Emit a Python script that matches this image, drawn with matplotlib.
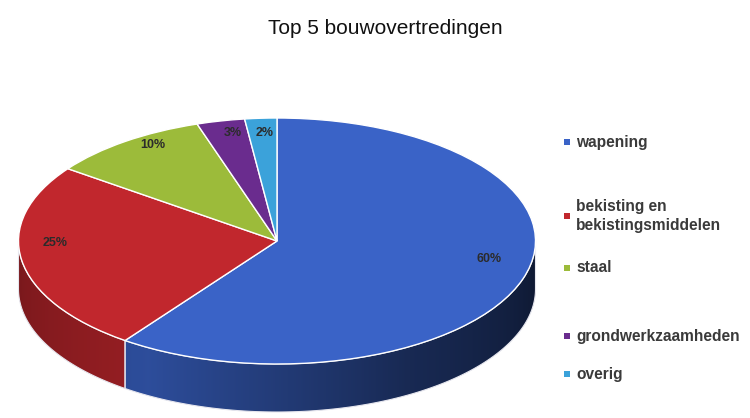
import numpy as np
import matplotlib
matplotlib.use("Agg")
import matplotlib.pyplot as plt
from matplotlib.patches import Polygon
from matplotlib.colors import to_rgb

# ---- data ----
categories = ["wapening", "bekisting en\nbekistingsmiddelen", "staal",
              "grondwerkzaamheden", "overig"]
values = [60, 25, 10, 3, 2]
title = "Top 5 bouwovertredingen"

# ---- style ----
top_colors = ["#3a63c7", "#c1272d", "#9cbb3a", "#6a2c8e", "#3ba2da"]
plt.rcParams['font.family'] = ['Liberation Sans', 'DejaVu Sans']

W, H = 750, 418
fig = plt.figure(figsize=(W / 100, H / 100), dpi=100)
ax = fig.add_axes([0, 0, 1, 1])

# ellipse geometry in pixels (centre, semi axes) and wall depth
cx, cy, a_px, b_px, depth_px = 277, 241, 258.5, 123, 48

wedges, texts, autotexts = ax.pie(
    values, colors=top_colors, startangle=90, counterclock=False,
    autopct='%1.0f%%', pctdistance=0.75,
    wedgeprops=dict(edgecolor='white', linewidth=1.0, zorder=3),
    textprops=dict(fontsize=9, fontweight='bold', color='#2b2b2b', zorder=4))

ax.set_aspect('auto')
ax.set_xlim(-cx / a_px, (W - cx) / a_px)
ax.set_ylim(-(H - cy) / b_px, cy / b_px)
ax.axis('off')

d = depth_px / b_px
xs = np.linspace(-1, 1, 600)
angs_x = -np.degrees(np.arccos(xs))          # front-half angle for each x
shade = np.interp(angs_x, [-180, -120, -60, 0], [0.62, 0.78, 0.42, 0.24])

# side walls (gradient shaded) for the visible front part of each wedge
for w, tc in zip(wedges, top_colors):
    t1, t2 = w.theta1, w.theta2
    base = np.array(to_rgb(tc))
    for k in (-1, 0, 1):
        lo = max(t1 + 360 * k, -180)
        hi = min(t2 + 360 * k, 0)
        if hi > lo:
            ts = np.radians(np.linspace(lo, hi, 160))
            top = np.column_stack([np.cos(ts), np.sin(ts)])
            bot = np.column_stack([np.cos(ts[::-1]), np.sin(ts[::-1]) - d])
            verts = np.vstack([top, bot])
            clip = Polygon(verts, closed=True, facecolor='none', edgecolor='none',
                           transform=ax.transData)
            ax.add_patch(clip)
            img = (shade[:, None] * base[None, :])[None, :, :]
            im = ax.imshow(img, extent=(-1, 1, -1 - d, 0.05), aspect='auto',
                           interpolation='bilinear', zorder=1, origin='lower')
            im.set_clip_path(clip)
            ax.add_patch(Polygon(verts, closed=True, facecolor='none',
                                 edgecolor='#e6e6ee', linewidth=0.8, zorder=2))

ax.set_aspect('auto')
ax.set_xlim(-cx / a_px, (W - cx) / a_px)
ax.set_ylim(-(H - cy) / b_px, cy / b_px)

# percentage labels, placed with a slight perspective correction
for w, t in zip(wedges, autotexts):
    mid = np.radians((w.theta1 + w.theta2) / 2)
    r = 0.75 + 0.12 * abs(np.cos(mid))
    t.set_position((r * np.cos(mid), r * np.sin(mid) + 0.12))

# title
fig.text(385 / W, 1 - 28 / H, title, ha='center', va='center',
         fontsize=15, color='#111111')

# legend (manual placement)
leg_y = [142, 216, 268, 336, 374]
for lab, col, yy in zip(categories, top_colors, leg_y):
    fig.patches.append(plt.Rectangle((564 / W, 1 - (yy + 3) / H), 6 / W, 6 / H,
                                     transform=fig.transFigure, facecolor=col,
                                     edgecolor='none'))
    fig.text(576 / W, 1 - yy / H, lab, ha='left', va='center',
             fontsize=11.2, fontweight='bold', color='#3a3a3a',
             linespacing=1.35)

fig.savefig("out.png", dpi=100)
